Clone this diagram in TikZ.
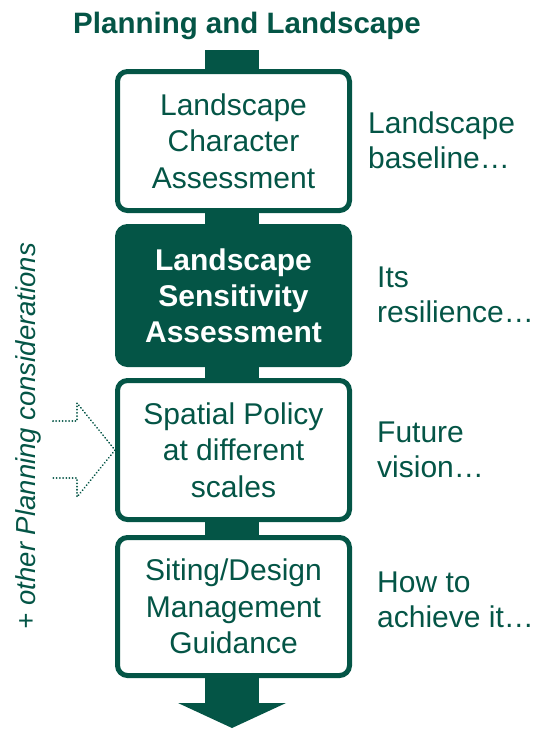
\documentclass[tikz,border=0pt]{standalone}
\usepackage{fontspec}
\setmainfont{Liberation Sans}
\definecolor{lgreen}{RGB}{4,85,70}
\begin{document}
\begin{tikzpicture}[x=1pt,y=-1pt,
  box/.style={draw=lgreen, line width=5pt, rounded corners=10pt, fill=white,
    minimum width=232pt, minimum height=139pt, align=center, text=lgreen,
    inner sep=0pt, font=\fontsize{30}{36.5}\selectfont},
  darkbox/.style={box, fill=lgreen, text=white, font=\fontsize{30}{36}\selectfont\bfseries},
  side/.style={anchor=west, align=left, text=lgreen, inner sep=0pt,
    font=\fontsize{30}{35}\selectfont},
  dotarrow/.style={draw=lgreen, line width=2pt, line cap=round, dash pattern=on 0.01pt off 3.2pt}]
\useasboundingbox (0,0) rectangle (534,729);
% title
\node[anchor=base, text=lgreen, inner sep=0pt, font=\fontsize{29.5}{32}\selectfont\bfseries] (title) at (247,33) {Planning and Landscape};
% main bar with arrow head
\coordinate (bartop) at (232,50);
\coordinate (barend) at (232,703);
\draw[lgreen, line width=54pt] (bartop) -- (barend);
\fill[lgreen] (barend) ++(-54,0) -- ++(108,0) -- ++(-54,25) -- cycle;
% boxes
\node[box] (lca) at (233.5,141) {Landscape\\Character\\Assessment};
\node[darkbox, minimum height=138pt] (lsa) at (233.5,295.5) {Landscape\\Sensitivity\\Assessment};
\node[box] (sp) at (233.5,450) {Spatial Policy\\at different\\scales};
\node[box, minimum height=138pt] (sdg) at (233.5,606.5) {Siting/Design\\Management\\Guidance};
% side labels
\node[side] (s1) at (368,140) {Landscape\\baseline…};
\node[side] (s2) at (377,295) {Its\\resilience…};
\node[side] (s3) at (377,449.5) {Future\\vision…};
\node[side] (s4) at (377,599.5) {How to\\achieve it…};
% other considerations
\node[rotate=90, anchor=base, text=lgreen, inner sep=0pt, font=\fontsize{27.5}{30}\selectfont\itshape] (other) at (35,436) {+ other Planning considerations};
\draw[dotarrow] (sp.west) ++(-62,-29) -- ++(24,0) -- ++(0,-18) -- (sp.west) -- ++(-38,47) -- ++(0,-19) -- ++(-24,0);
\end{tikzpicture}
\end{document}
